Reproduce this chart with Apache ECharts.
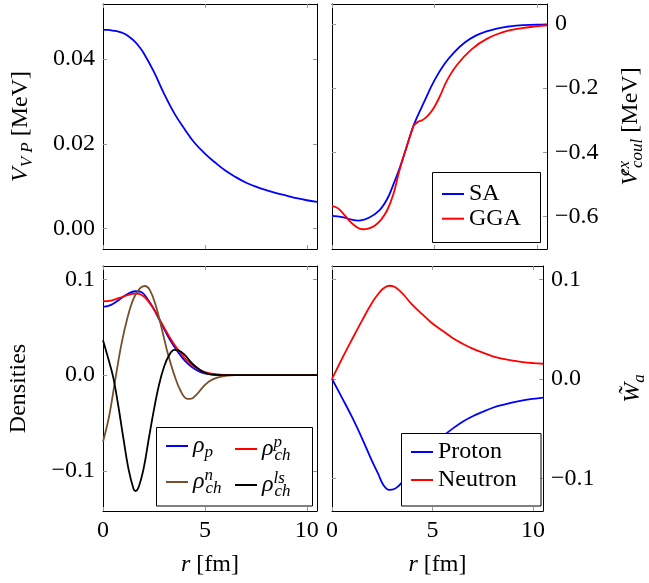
<!DOCTYPE html>
<html><head><meta charset="utf-8">
<script src="https://cdn.jsdelivr.net/npm/echarts@6/dist/echarts.min.js"></script>
<style>html,body{margin:0;padding:0;background:#fff;}#c{width:649px;height:583px;}</style>
</head><body><div id="c"></div>
<script>
// ---------- DATA ----------
const ticksX = [0, 5, 10];
const ticksVP = [0, 0.02, 0.04];
const ticksCoul = [-0.6, -0.4, -0.2, 0];
const ticksDens = [-0.1, 0, 0.1];
const ticksW = [-0.1, 0, 0.1];

// Top-left: V_VP
const rVP = [0, 0.25, 0.5, 0.75, 1.0, 1.25, 1.5, 1.75, 2.0, 2.5, 3.0, 3.5, 4.0, 4.5, 5.0, 5.5, 6.0, 6.5, 7.0, 7.5, 8.0, 8.5, 9.0, 9.5, 10.0, 10.5];
const vVP = [0.0469, 0.0469, 0.0467, 0.0465, 0.0461, 0.0454, 0.0444, 0.0431, 0.0414, 0.0370, 0.0318, 0.0272, 0.0235, 0.0202, 0.0177, 0.0156, 0.0137, 0.0122, 0.0109, 0.0099, 0.0091, 0.0084, 0.0078, 0.0072, 0.0067, 0.0063];

// Top-right: V_coul^ex
const rSA = [0, 0.5, 1.0, 1.3, 1.8, 2.3, 2.7, 3.0, 3.3, 3.6, 4.0, 4.5, 5.0, 5.5, 6.0, 6.5, 7.0, 7.5, 8.0, 8.5, 9.0, 10.0, 10.5];
const vSA = [-0.598, -0.602, -0.611, -0.613, -0.604, -0.582, -0.545, -0.500, -0.450, -0.392, -0.314, -0.243, -0.176, -0.124, -0.086, -0.057, -0.037, -0.024, -0.015, -0.009, -0.005, -0.002, -0.001];
const rGGA = [0, 0.3, 0.6, 0.9, 1.2, 1.5, 1.8, 2.1, 2.4, 2.7, 3.0, 3.3, 3.6, 3.9, 4.0, 4.2, 4.4, 4.6, 4.8, 5.0, 5.3, 5.6, 6.1, 6.8, 7.6, 8.6, 9.5, 10.5];
const vGGA = [-0.567, -0.575, -0.595, -0.617, -0.633, -0.640, -0.637, -0.628, -0.610, -0.580, -0.530, -0.455, -0.392, -0.333, -0.316, -0.305, -0.300, -0.291, -0.277, -0.259, -0.221, -0.178, -0.128, -0.080, -0.045, -0.021, -0.011, -0.004];

// Bottom-left: densities
const rRhoP = [0, 0.4, 0.8, 1.2, 1.6, 1.9, 2.2, 2.5, 2.8, 3.1, 3.4, 3.7, 4.0, 4.3, 4.6, 4.9, 5.2, 5.6, 6.0, 7.0, 8.0, 10.5];
const vRhoP = [0.0714, 0.0735, 0.0790, 0.0848, 0.0878, 0.0868, 0.0790, 0.0690, 0.0565, 0.0442, 0.0330, 0.0235, 0.0155, 0.0095, 0.0052, 0.0025, 0.0010, 0.0003, 0, 0, 0, 0];
const rRhoChP = [0, 0.4, 0.8, 1.2, 1.6, 1.9, 2.2, 2.5, 2.8, 3.1, 3.4, 3.7, 4.0, 4.3, 4.6, 4.9, 5.2, 5.6, 6.0, 6.5, 8.0, 10.5];
const vRhoChP = [0.0773, 0.0780, 0.0808, 0.0838, 0.0852, 0.0838, 0.0780, 0.0688, 0.0575, 0.0460, 0.0352, 0.0260, 0.0182, 0.0120, 0.0072, 0.0040, 0.0020, 0.0007, 0.0002, 0, 0, 0];
const rRhoChN = [0, 0.3, 0.6, 0.9, 1.2, 1.5, 1.8, 2.05, 2.3, 2.6, 2.9, 3.2, 3.5, 3.8, 4.1, 4.3, 4.6, 4.9, 5.2, 5.6, 6.0, 6.5, 8.0, 10.5];
const vRhoChN = [-0.0697, -0.043, -0.005, 0.032, 0.060, 0.080, 0.0905, 0.0933, 0.089, 0.072, 0.047, 0.021, 0.000, -0.016, -0.0245, -0.0248, -0.020, -0.0125, -0.0065, -0.0025, -0.0008, 0, 0, 0];
const rRhoChLS = [0, 0.25, 0.5, 0.75, 1.0, 1.25, 1.5, 1.6, 1.75, 2.0, 2.25, 2.5, 2.75, 3.0, 3.25, 3.5, 3.7, 4.0, 4.3, 4.6, 4.9, 5.2, 5.6, 6.0, 8.0, 10.5];
const vRhoChLS = [0.0366, 0.018, -0.002, -0.032, -0.066, -0.098, -0.119, -0.1212, -0.117, -0.097, -0.066, -0.036, -0.010, 0.009, 0.021, 0.0265, 0.026, 0.0215, 0.014, 0.0080, 0.0035, 0.0012, 0.0003, 0, 0, 0];

// Bottom-right: W_a
const rW = [0, 0.5, 1.0, 1.5, 2.0, 2.3, 2.55, 2.85, 3.1, 3.35, 3.6, 4.0, 4.5, 5.0, 5.5, 6.0, 6.5, 7.0, 7.5, 8.0, 8.5, 9.0, 9.5, 10.0, 10.5];
const vNeutron = [0, 0.0205, 0.040, 0.059, 0.077, 0.0855, 0.0910, 0.0938, 0.0928, 0.0892, 0.0840, 0.0745, 0.065, 0.0558, 0.0485, 0.0413, 0.0355, 0.0305, 0.0265, 0.0228, 0.0202, 0.0185, 0.0170, 0.0160, 0.0153];
const vProton = [0, -0.019, -0.0385, -0.060, -0.083, -0.0955, -0.1065, -0.1116, -0.1108, -0.1070, -0.1010, -0.089, -0.077, -0.0665, -0.058, -0.050, -0.043, -0.0375, -0.033, -0.029, -0.026, -0.0235, -0.0215, -0.0200, -0.0188];

// ---------- CHART ----------
const SERIF = "'Liberation Serif', 'Times New Roman', serif";
const FS = 24;
const zip = (xs, ys) => xs.map((x, i) => [x, ys[i]]);
const rich = {
  it: {fontFamily: SERIF, fontStyle: 'italic', fontSize: FS, lineHeight: 30, color: '#000'},
  rm: {fontFamily: SERIF, fontSize: FS, lineHeight: 30, color: '#000'},
  sub: {fontFamily: SERIF, fontStyle: 'italic', fontSize: 17, lineHeight: 14, verticalAlign: 'bottom', color: '#000'},
  supk: {fontFamily: SERIF, fontStyle: 'italic', fontSize: 17, lineHeight: 14, verticalAlign: 'top', width: 1, color: '#000'},
  supv: {fontFamily: SERIF, fontStyle: 'italic', fontSize: 17, lineHeight: 14, verticalAlign: 'top', width: 1, padding: [0, 0, 0, 2], color: '#000'}
};
const minus = s => s.replace('-', '\u2212');

const grids = [
  {left: 103, top: 4, width: 214, height: 245},
  {left: 332, top: 4, width: 215, height: 245},
  {left: 103, top: 266, width: 214, height: 245},
  {left: 332, top: 266, width: 215, height: 245}
];
const yRanges = [[-0.0048, 0.053], [-0.7016, 0.0623], [-0.1421, 0.1142], [-0.1329, 0.1137]];
const yTicks = [ticksVP, ticksCoul, ticksDens, ticksW];
const yFmt = [
  v => v.toFixed(2),
  v => v === 0 ? '0' : minus(v.toFixed(1)),
  v => minus(v.toFixed(1)),
  v => minus(v.toFixed(1))
];
const yNames = [
  '{it|V}{sub|V P}{rm| [MeV]}',
  '{it|V}{supv|ex}{sub|coul}{rm| [MeV]}',
  '{rm|Densities}',
  '{it|W\u0303}{sub|a}'
];
const yNameGap = [67, 69, 69, 75];
const yMainRight = [false, true, false, true];

const axLine = {show: true, onZero: false, lineStyle: {color: '#000', width: 1}};
function tick(vals) {
  return {show: true, inside: true, length: 4, customValues: vals, lineStyle: {color: '#999', width: 1}};
}
const xAxis = [], yAxis = [];
for (let g = 0; g < 4; g++) {
  const bottomRow = g >= 2;
  xAxis.push({
    type: 'value', gridIndex: g, position: 'bottom', min: 0, max: 10.5,
    axisLine: axLine, axisTick: tick(ticksX), splitLine: {show: false},
    axisLabel: {show: bottomRow, customValues: ticksX, fontFamily: SERIF, fontSize: FS, color: '#000', margin: 8},
    name: bottomRow ? '{it|r}{rm| [fm]}' : '', nameLocation: 'middle', nameGap: 39,
    nameTextStyle: {rich: rich}
  });
  xAxis.push({
    type: 'value', gridIndex: g, position: 'top', min: 0, max: 10.5,
    axisLine: axLine, axisTick: tick(ticksX), splitLine: {show: false},
    axisLabel: {show: false}
  });
  const r = yMainRight[g];
  yAxis.push({
    type: 'value', gridIndex: g, position: r ? 'right' : 'left',
    min: yRanges[g][0], max: yRanges[g][1],
    axisLine: axLine, axisTick: tick(yTicks[g]), splitLine: {show: false},
    axisLabel: {show: true, customValues: yTicks[g], formatter: yFmt[g], fontFamily: SERIF, fontSize: FS, color: '#000', margin: 8},
    name: yNames[g], nameLocation: 'middle', nameRotate: 90, nameGap: yNameGap[g],
    nameTextStyle: {rich: rich}
  });
  yAxis.push({
    type: 'value', gridIndex: g, position: r ? 'left' : 'right',
    min: yRanges[g][0], max: yRanges[g][1],
    axisLine: axLine, axisTick: tick(yTicks[g]), splitLine: {show: false},
    axisLabel: {show: false}
  });
}

function line(name, g, xs, ys, color) {
  return {
    name: name, type: 'line', xAxisIndex: 2 * g, yAxisIndex: 2 * g, z: 2,
    data: zip(xs, ys), symbol: 'none', smooth: 0.4, clip: true,
    lineStyle: {color: color, width: 1.8}, itemStyle: {color: color}
  };
}
const BLUE = '#0000ff', RED = '#ff0000', BROWN = '#76502c', BLACK = '#000000';
const series = [
  line('VVP', 0, rVP, vVP, BLUE),
  line('SA', 1, rSA, vSA, BLUE),
  line('GGA', 1, rGGA, vGGA, RED),
  line('rho_p', 2, rRhoP, vRhoP, BLUE),
  line('rho_ch_p', 2, rRhoChP, vRhoChP, RED),
  line('rho_ch_n', 2, rRhoChN, vRhoChN, BROWN),
  line('rho_ch_ls', 2, rRhoChLS, vRhoChLS, BLACK),
  line('Proton', 3, rW, vProton, BLUE),
  line('Neutron', 3, rW, vNeutron, RED)
];

const legendLabels = {
  SA: '{rm|SA}', GGA: '{rm|GGA}', Proton: '{rm|Proton}', Neutron: '{rm|Neutron}',
  rho_p: '{it|\u03c1}{sub|p}',
  rho_ch_p: '{it|\u03c1}{supk|p}{sub|ch}',
  rho_ch_n: '{it|\u03c1}{supk|n}{sub|ch}',
  rho_ch_ls: '{it|\u03c1}{supk|ls}{sub|ch}'
};
function legend(data, left, top, gap, lh) {
  const rr = JSON.parse(JSON.stringify(rich));
  rr.rm.lineHeight = lh; rr.it.lineHeight = lh;
  return {
    data: data, orient: 'vertical', left: left, top: top, itemGap: gap, padding: 0,
    icon: 'rect', itemWidth: 22, itemHeight: 2, z: 20, zlevel: 0,
    formatter: n => legendLabels[n], selectedMode: false,
    textStyle: {rich: rr, fontFamily: SERIF, fontSize: FS}
  };
}

const boxStyle = {fill: '#fff', stroke: '#000', lineWidth: 1};
const option = {
  animation: false,
  backgroundColor: '#fff',
  grid: grids,
  xAxis: xAxis,
  yAxis: yAxis,
  series: series,
  legend: [
    legend(['SA', 'GGA'], 442, 182, 0.7, 26),
    legend(['Proton', 'Neutron'], 411, 440, 4, 26),
    legend(['rho_p', 'rho_ch_n'], 166, 434, 6, 30),
    legend(['rho_ch_p', 'rho_ch_ls'], 235, 434, 6, 30)
  ],
  graphic: {
    z: 10, zlevel: 0,
    elements: [
      {type: 'rect', z: 10, shape: {x: 432.5, y: 172.5, width: 108, height: 70}, style: boxStyle},
      {type: 'rect', z: 10, shape: {x: 401.5, y: 433.5, width: 139.5, height: 72.5}, style: boxStyle},
      {type: 'rect', z: 10, shape: {x: 156.5, y: 427.5, width: 156, height: 78.5}, style: boxStyle}
    ]
  }
};
const chart = echarts.init(document.getElementById('c'), null, {renderer: 'canvas'});
chart.setOption(option);
</script>
</body></html>
